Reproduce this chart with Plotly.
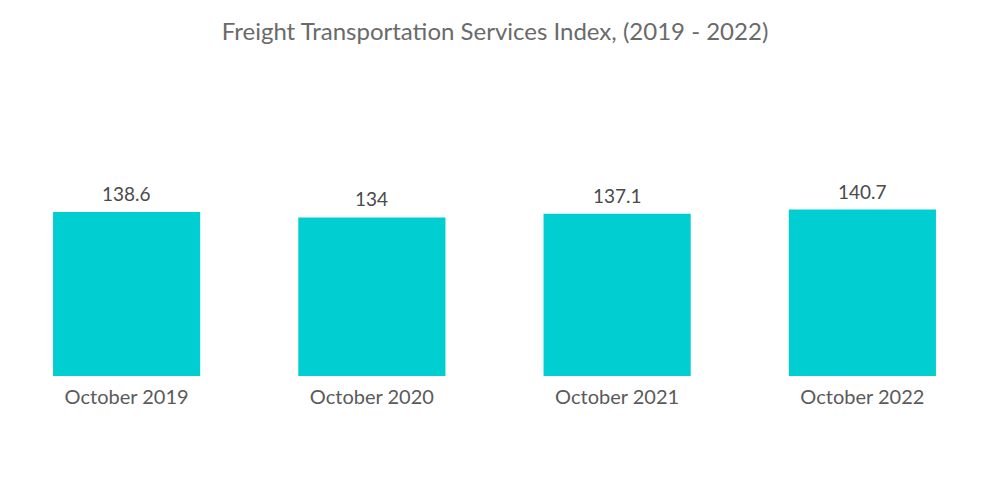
import plotly.graph_objects as go

categories = ["October 2019", "October 2020", "October 2021", "October 2022"]
values = [138.6, 134, 137.1, 140.7]
labels = ["138.6", "134", "137.1", "140.7"]

fig = go.Figure(go.Bar(
    x=categories, y=values,
    marker=dict(color="#00CED1", line=dict(width=0)),
    width=0.6,
    hoverinfo="x+y",
))
for c, v, t in zip(categories, values, labels):
    fig.add_annotation(x=c, y=v, text=t, showarrow=False, yanchor="bottom",
                       yshift=5, font=dict(family="Lato", size=19, color="#4a4a4a"))
fig.update_layout(
    width=1000, height=504,
    paper_bgcolor="white", plot_bgcolor="white",
    margin=dict(l=4, r=15, t=100, b=128),
    title=dict(text="Freight Transportation Services Index, (2019 - 2022)",
               x=0.495, xanchor="center", y=0.938, yanchor="middle",
               font=dict(family="Lato", size=24, color="#6a6a6a")),
    xaxis=dict(showgrid=False, showline=False, zeroline=False, ticks="",
               ticklabelstandoff=7,
               tickfont=dict(family="Lato", size=20, color="#5a5a5a")),
    yaxis=dict(visible=False, range=[0, 233.3]),
    showlegend=False,
)
fig.write_html("out.html", config={"displayModeBar": False},
               post_script="document.body.style.margin='0';")
